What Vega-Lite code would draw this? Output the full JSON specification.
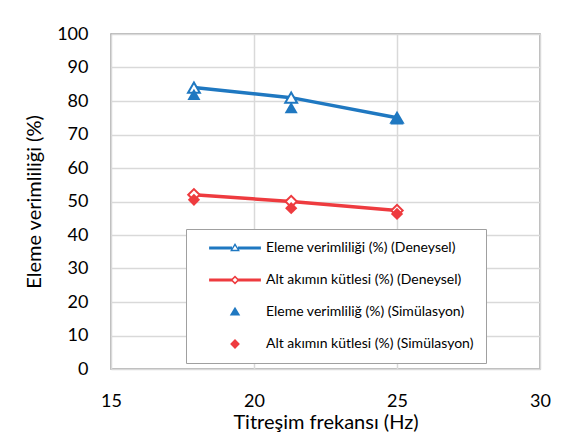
{
  "$schema": "https://vega.github.io/schema/vega-lite/v6.json",
  "width": 429,
  "height": 335,
  "autosize": "none",
  "padding": {"left": 111, "top": 34, "right": 33, "bottom": 76},
  "background": "white",
  "config": {
    "font": "Lato",
    "view": {"stroke": "#a0a0a0", "strokeWidth": 1.5},
    "axis": {"gridColor": "#d9d9d9", "gridWidth": 1.5, "domain": false, "ticks": false, "labelColor": "black", "titleColor": "black", "labelFont": "Lato", "titleFont": "Lato", "labelFontSize": 18, "titleFontSize": 20, "titleFontWeight": "normal"}
  },
  "data": {
    "values": [
      {"f": 17.9, "v": 84, "series": "Eleme verimliliği (%) (Deneysel)", "kind": "Deneysel"},
      {"f": 21.3, "v": 81, "series": "Eleme verimliliği (%) (Deneysel)", "kind": "Deneysel"},
      {"f": 25, "v": 75, "series": "Eleme verimliliği (%) (Deneysel)", "kind": "Deneysel"},
      {"f": 17.9, "v": 52, "series": "Alt akımın kütlesi (%) (Deneysel)", "kind": "Deneysel"},
      {"f": 21.3, "v": 50, "series": "Alt akımın kütlesi (%) (Deneysel)", "kind": "Deneysel"},
      {"f": 25, "v": 47.3, "series": "Alt akımın kütlesi (%) (Deneysel)", "kind": "Deneysel"},
      {"f": 17.9, "v": 82, "series": "Eleme verimliliğ (%) (Simülasyon)", "kind": "Simülasyon"},
      {"f": 21.3, "v": 78, "series": "Eleme verimliliğ (%) (Simülasyon)", "kind": "Simülasyon"},
      {"f": 25, "v": 74.7, "series": "Eleme verimliliğ (%) (Simülasyon)", "kind": "Simülasyon"},
      {"f": 17.9, "v": 50.5, "series": "Alt akımın kütlesi (%) (Simülasyon)", "kind": "Simülasyon"},
      {"f": 21.3, "v": 48, "series": "Alt akımın kütlesi (%) (Simülasyon)", "kind": "Simülasyon"},
      {"f": 25, "v": 46.3, "series": "Alt akımın kütlesi (%) (Simülasyon)", "kind": "Simülasyon"}
    ]
  },
  "encoding": {
    "x": {"field": "f", "type": "quantitative", "scale": {"domain": [15, 30], "nice": false, "zero": false},
      "axis": {"values": [15, 20, 25, 30], "title": "Titreşim frekansı (Hz)", "labelPadding": 23, "titlePadding": 2, "labelFlush": false}},
    "y": {"field": "v", "type": "quantitative", "scale": {"domain": [0, 100], "nice": false},
      "axis": {"values": [0, 10, 20, 30, 40, 50, 60, 70, 80, 90, 100], "title": "Eleme verimliliği (%)", "labelPadding": 23, "titlePadding": 12}},
    "color": {"field": "series", "type": "nominal",
      "scale": {"domain": ["Eleme verimliliği (%) (Deneysel)", "Alt akımın kütlesi (%) (Deneysel)", "Eleme verimliliğ (%) (Simülasyon)", "Alt akımın kütlesi (%) (Simülasyon)"],
        "range": ["#1f78c1", "#ee3b3f", "#1f78c1", "#ee3b3f"]},
      "legend": {
        "orient": "none", "legendX": 75, "legendY": 195, "title": null,
        "fillColor": "white", "strokeColor": "#a0a0a0", "padding": 12,
        "symbolSize": 196, "symbolOffset": 30, "labelOffset": 24, "rowPadding": 18,
        "labelFont": "Lato", "labelFontSize": 14, "labelColor": "black", "labelLimit": 0,
        "symbolStrokeWidth": 0,
        "encode": {"symbols": {"update": {
          "shape": {"signal": "indexof(datum.value, 'Deneysel') >= 0 ? (indexof(datum.value, 'Eleme') >= 0 ? 'M-3.7,-0.21H-0.42V0.21H-3.7Z M0.42,-0.21H3.7V0.21H0.42Z M0,-0.7L0.7,0.45L-0.7,0.45Z M0,-0.32L-0.36,0.26L0.36,0.26Z' : 'M-3.7,-0.21H-0.45V0.21H-3.7Z M0.45,-0.21H3.7V0.21H0.45Z M0,-0.65L0.65,0L0,0.65L-0.65,0Z M0,-0.33L-0.33,0L0,0.33L0.33,0Z') : (indexof(datum.value, 'Eleme') >= 0 ? 'M0,-0.75L0.75,0.5L-0.75,0.5Z' : 'M0,-0.7L0.7,0L0,0.7L-0.7,0Z')"},
          "fill": {"signal": "scale('color', datum.value)"},
          "stroke": {"value": "transparent"},
          "strokeWidth": {"value": 0},
          "opacity": {"value": 1},
          "fillOpacity": {"value": 1}
        }}}
      }
    }
  },
  "layer": [
    {
      "transform": [{"filter": "datum.kind == 'Deneysel'"}],
      "mark": {"type": "line", "strokeWidth": 3.5},
      "encoding": {"detail": {"field": "series"}}
    },
    {
      "transform": [{"filter": "datum.series == 'Eleme verimliliği (%) (Deneysel)'"}],
      "mark": {"type": "point", "shape": "triangle-up", "filled": false, "fill": "white", "strokeWidth": 2, "size": 140, "opacity": 1}
    },
    {
      "transform": [{"filter": "datum.series == 'Alt akımın kütlesi (%) (Deneysel)'"}],
      "mark": {"type": "point", "shape": "diamond", "filled": false, "fill": "white", "strokeWidth": 2, "size": 130, "opacity": 1}
    },
    {
      "transform": [{"filter": "datum.series == 'Eleme verimliliğ (%) (Simülasyon)'"}],
      "mark": {"type": "point", "shape": "triangle-up", "filled": true, "size": 170, "opacity": 1}
    },
    {
      "transform": [{"filter": "datum.series == 'Alt akımın kütlesi (%) (Simülasyon)'"}],
      "mark": {"type": "point", "shape": "diamond", "filled": true, "size": 150, "opacity": 1}
    }
  ]
}
